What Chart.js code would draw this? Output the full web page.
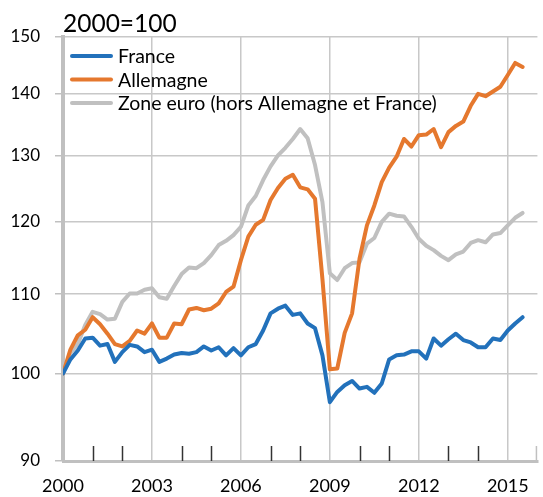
<!DOCTYPE html>
<html>
<head>
<meta charset="utf-8">
<script src="https://cdn.jsdelivr.net/npm/chart.js@4.4.1/dist/chart.umd.min.js"></script>
<style>
  html, body { margin: 0; padding: 0; background: #fff; }
  canvas { display: block; }
</style>
</head>
<body>
<canvas id="chart" width="543" height="497"></canvas>
<script>
// indices trimestriels, 2000 = 100 (de 2000T1 a 2015T3)
var france = [
  100.0, 101.7, 102.8, 104.3, 104.4, 103.4, 103.6, 101.4,
  102.6, 103.5, 103.3, 102.6, 102.9, 101.4, 101.8, 102.3,
  102.5, 102.4, 102.6, 103.3, 102.8, 103.2, 102.2, 103.1,
  102.2, 103.2, 103.6, 105.3, 107.5, 108.1, 108.5, 107.3,
  107.5, 106.2, 105.6, 102.2, 96.6, 97.8, 98.6, 99.1,
  98.2, 98.4, 97.7, 98.8, 101.7, 102.2, 102.3, 102.7,
  102.7, 101.8, 104.3, 103.4, 104.2, 104.9, 104.1, 103.8,
  103.2, 103.2, 104.3, 104.1, 105.3, 106.2, 107.0
];
var allemagne = [
  100.0, 102.9, 104.7, 105.4, 107.0, 106.1, 104.9, 103.6,
  103.3, 104.0, 105.3, 104.9, 106.2, 104.4, 104.4, 106.2,
  106.1, 108.0, 108.2, 107.9, 108.1, 108.8, 110.3, 111.0,
  114.6, 117.9, 119.6, 120.3, 123.2, 125.0, 126.4, 127.0,
  125.1, 124.8, 123.4, 112.0, 100.5, 100.6, 105.0, 107.5,
  114.8, 119.5, 122.4, 125.9, 128.1, 129.8, 132.6, 131.4,
  133.2, 133.3, 134.2, 131.3, 133.7, 134.7, 135.4, 138.0,
  140.0, 139.6, 140.4, 141.2, 143.2, 145.3, 144.6
];
var zoneEuro = [
  100.0, 102.5, 103.6, 106.0, 107.7, 107.4, 106.7, 106.8,
  109.0, 110.1, 110.1, 110.6, 110.8, 109.6, 109.4, 111.1,
  112.7, 113.6, 113.5, 114.2, 115.3, 116.7, 117.3, 118.1,
  119.3, 122.4, 123.8, 126.2, 128.3, 130.0, 131.2, 132.6,
  134.2, 132.7, 128.5, 122.9, 112.8, 111.9, 113.5, 114.2,
  114.3, 116.9, 117.7, 120.0, 121.2, 120.9, 120.8, 119.3,
  117.6, 116.6, 116.0, 115.2, 114.6, 115.4, 115.8, 117.0,
  117.4, 117.1, 118.2, 118.4, 119.5, 120.6, 121.3
];
var seriesNames = ['France', 'Allemagne', 'Zone euro (hors Allemagne et France)'];
var seriesColors = ['#2271bb', '#e5782e', '#c0c0c0'];
var xLabels = [2000, 2003, 2006, 2009, 2012, 2015];
var yLabels = [90, 100, 110, 120, 130, 140, 150];
var yearMarks = [2001, 2002, 2004, 2005, 2007, 2008, 2010, 2011, 2013, 2014];

// abscisse : trimestres en annees decimales
var quarters = france.map(function (v, i) { return 2000 + i / 4; });

function toPoints(values) {
  return values.map(function (v, i) { return { x: quarters[i], y: v }; });
}

var FONT = 'Lato, "Noto Sans", sans-serif';
var GRID = '#c8c8c8';

// petits traits noirs des annees + legende dans la zone du graphique
var extras = {
  id: 'extras',
  afterDraw: function (chart) {
    var ctx = chart.ctx;
    var x = chart.scales.x;
    var area = chart.chartArea;
    ctx.save();
    ctx.lineWidth = 1.5;
    ctx.strokeStyle = '#333';
    yearMarks.forEach(function (yr) {
      var px = Math.round(x.getPixelForValue(yr)) + 0.5;
      ctx.beginPath();
      ctx.moveTo(px, area.bottom);
      ctx.lineTo(px, area.bottom - 15);
      ctx.stroke();
    });
    ctx.strokeStyle = '#c0c0c0';
    var pEnd = x.getPixelForValue(2016) - 1;
    ctx.beginPath();
    ctx.moveTo(pEnd, area.bottom);
    ctx.lineTo(pEnd, area.bottom - 15);
    ctx.stroke();

    ctx.font = '19.5px ' + FONT;
    ctx.textBaseline = 'middle';
    ctx.fillStyle = '#000';
    ctx.lineWidth = 4;
    ctx.lineCap = 'round';
    chart.data.datasets.forEach(function (ds, i) {
      var y = area.top + 19.5 + i * 23.5;
      ctx.strokeStyle = ds.borderColor;
      ctx.beginPath();
      ctx.moveTo(area.left + 9, y);
      ctx.lineTo(area.left + 48, y);
      ctx.stroke();
      ctx.fillText(ds.label, area.left + 55, y + 1);
    });
    ctx.restore();
  }
};

new Chart(document.getElementById('chart'), {
  type: 'line',
  data: {
    datasets: [
      { label: seriesNames[0], data: toPoints(france), borderColor: seriesColors[0], order: 1 },
      { label: seriesNames[1], data: toPoints(allemagne), borderColor: seriesColors[1], order: 2 },
      { label: seriesNames[2], data: toPoints(zoneEuro), borderColor: seriesColors[2], order: 3 }
    ]
  },
  options: {
    responsive: false,
    animation: false,
    layout: { padding: { right: 2 } },
    elements: {
      line: { borderWidth: 4, tension: 0, borderJoinStyle: 'round', borderCapStyle: 'round', fill: false },
      point: { radius: 0 }
    },
    plugins: {
      legend: { display: false },
      tooltip: { enabled: false },
      title: {
        display: true,
        text: '2000=100',
        align: 'start',
        fullSize: false,
        color: '#000',
        font: { family: FONT, size: 24.5, weight: 'normal', lineHeight: 1 },
        padding: { top: 12, bottom: 0 }
      }
    },
    scales: {
      x: {
        type: 'linear',
        min: 2000,
        max: 2016,
        afterFit: function (s) { s.height = 36; },
        afterBuildTicks: function (s) { s.ticks = xLabels.map(function (v) { return { value: v }; }); },
        ticks: {
          color: '#000',
          font: { family: FONT, size: 18 },
          padding: 14,
          maxRotation: 0,
          callback: function (v) { return String(v); }
        },
        grid: { color: GRID, lineWidth: 1.5, drawTicks: false },
        border: { color: '#c0c0c0', width: 3 }
      },
      y: {
        type: 'logarithmic',
        min: 90,
        max: 150,
        afterFit: function (s) { s.width = 63; },
        afterBuildTicks: function (s) { s.ticks = yLabels.map(function (v) { return { value: v }; }); },
        ticks: {
          color: '#000',
          font: { family: FONT, size: 17 },
          padding: 15,
          callback: function (v) { return String(v); }
        },
        grid: { color: GRID, lineWidth: 1.5, tickLength: 8, tickColor: '#c0c0c0' },
        border: { color: '#c0c0c0', width: 4 }
      }
    }
  },
  plugins: [extras]
});
</script>
</body>
</html>
